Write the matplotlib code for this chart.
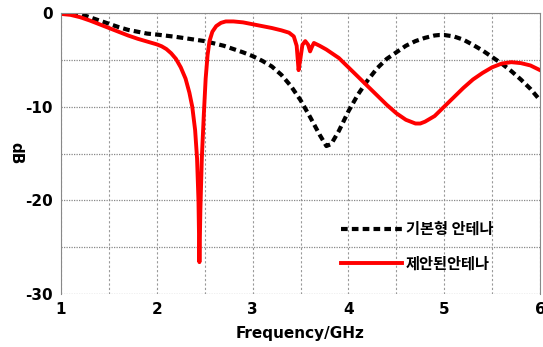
import numpy as np
import matplotlib
matplotlib.use("Agg")
import matplotlib.pyplot as plt
from matplotlib.ticker import MultipleLocator

plt.rcParams['font.family'] = ['Noto Sans CJK KR', 'DejaVu Sans']
plt.rcParams['axes.unicode_minus'] = False

# basic antenna (dashed black)
freq_base = [1.0, 1.1, 1.2, 1.3, 1.4, 1.5, 1.6, 1.7, 1.8, 1.9, 2.0, 2.2, 2.4, 2.5, 2.6,
             2.7, 2.8, 2.9, 3.0, 3.1, 3.2, 3.3, 3.4, 3.5, 3.6, 3.7, 3.77, 3.82, 3.9,
             4.0, 4.1, 4.2, 4.3, 4.4, 4.5, 4.6, 4.7, 4.8, 4.9, 4.95, 5.0, 5.1, 5.2,
             5.3, 5.4, 5.5, 5.6, 5.7, 5.8, 5.9, 6.0]
db_base = [0.3, 0.15, -0.1, -0.45, -0.8, -1.15, -1.5, -1.8, -2.0, -2.2, -2.3, -2.55,
           -2.85, -3.0, -3.25, -3.5, -3.85, -4.2, -4.6, -5.1, -5.7, -6.6, -7.8, -9.3,
           -11.1, -13.0, -14.2, -14.0, -12.6, -10.5, -8.7, -7.2, -5.9, -4.9, -4.2,
           -3.5, -3.0, -2.65, -2.4, -2.35, -2.35, -2.5, -2.85, -3.4, -4.0, -4.7, -5.4,
           -6.2, -7.1, -8.1, -9.3]

# proposed antenna (solid red)
freq_prop = [1.0, 1.1, 1.2, 1.3, 1.4, 1.5, 1.6, 1.7, 1.8, 1.9, 2.0, 2.05, 2.1, 2.15,
             2.2, 2.25, 2.3, 2.34, 2.37, 2.4, 2.42, 2.435, 2.445, 2.455, 2.47, 2.49,
             2.51, 2.53, 2.55, 2.58, 2.62, 2.67, 2.72, 2.8, 2.9, 3.0, 3.1, 3.2, 3.3,
             3.38, 3.43, 3.46, 3.48, 3.5, 3.52, 3.55, 3.58, 3.6, 3.62, 3.64, 3.7, 3.77,
             3.9, 4.0, 4.1, 4.2, 4.3, 4.4, 4.5, 4.6, 4.7, 4.75, 4.8, 4.9, 5.0, 5.1,
             5.2, 5.3, 5.4, 5.5, 5.6, 5.7, 5.8, 5.9, 6.0]
db_prop = [-0.1, -0.2, -0.45, -0.8, -1.2, -1.6, -2.0, -2.4, -2.75, -3.05, -3.35, -3.55,
           -3.85, -4.3, -4.9, -5.8, -7.0, -8.5, -10.0, -12.5, -15.5, -20.0, -26.6,
           -21.0, -15.5, -11.0, -7.0, -4.5, -3.0, -2.0, -1.4, -1.05, -0.9, -0.9, -1.0,
           -1.2, -1.4, -1.6, -1.85, -2.1, -2.5, -3.5, -6.1, -4.8, -3.4, -3.0, -3.4,
           -4.1, -3.6, -3.2, -3.5, -3.9, -4.8, -5.8, -6.8, -7.8, -8.8, -9.8, -10.7,
           -11.4, -11.8, -11.8, -11.6, -11.0, -10.0, -9.0, -8.0, -7.1, -6.4, -5.8,
           -5.4, -5.25, -5.35, -5.6, -6.1]

labels = ['기본형 안테나', '제안된안테나']

fig = plt.figure(figsize=(5.43, 3.47), dpi=100)
ax = fig.add_axes([61 / 543, 53 / 347, 479 / 543, 281 / 347])

ax.plot(freq_base, db_base, color='black', lw=3, linestyle=(0, (1.6, 1.0)), label=labels[0])
ax.plot(freq_prop, db_prop, color='red', lw=2.8, label=labels[1])

ax.set_xlim(1, 6)
ax.set_ylim(-30, 0)
ax.xaxis.set_major_locator(MultipleLocator(1))
ax.xaxis.set_minor_locator(MultipleLocator(0.5))
ax.yaxis.set_major_locator(MultipleLocator(10))
ax.yaxis.set_minor_locator(MultipleLocator(5))

ax.grid(True, which='both', axis='x', color='#999999', linestyle=(0, (2, 2)), lw=0.8)
ax.grid(True, which='both', axis='y', color='#888888', linestyle=(0, (1, 1)), lw=0.9)

ax.tick_params(which='both', length=0, pad=6)
for lab in ax.get_xticklabels() + ax.get_yticklabels():
    lab.set_fontweight('bold')
    lab.set_fontsize(11)
    lab.set_family('DejaVu Sans')

for side in ['top', 'right', 'left']:
    ax.spines[side].set_color('#888888')
ax.spines['bottom'].set_visible(False)

ax.set_xlabel('Frequency/GHz', fontsize=11, fontweight='bold', family='DejaVu Sans', labelpad=6)
ax.set_ylabel('dB', fontsize=11, fontweight='bold', family='DejaVu Sans', rotation=-90, labelpad=12)

leg = ax.legend(loc='lower left', bbox_to_anchor=(0.585, 0.08), frameon=False,
                handlelength=4.0, handletextpad=0.25, labelspacing=1.2,
                borderpad=0, borderaxespad=0,
                prop={'family': 'Noto Sans CJK KR', 'weight': 'bold', 'size': 11})

fig.savefig('out.png', dpi=100)
